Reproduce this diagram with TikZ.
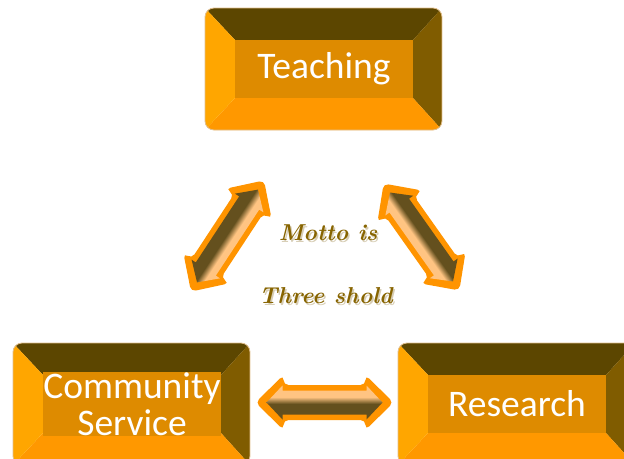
\documentclass[tikz,border=0pt]{standalone}
\usepackage{fontspec}
\newfontfamily\calibri{Carlito}
\definecolor{bevtop}{RGB}{92,70,0}
\definecolor{bevright}{RGB}{128,92,0}
\definecolor{bevleft}{RGB}{255,166,0}
\definecolor{bevbot}{RGB}{255,152,0}
\definecolor{bevmid}{RGB}{222,139,0}
\definecolor{bevrim}{RGB}{225,190,140}
\definecolor{arrline}{RGB}{255,148,0}
\definecolor{arrlight}{RGB}{255,196,130}
\definecolor{arredge}{RGB}{230,150,70}
\definecolor{arrdark}{RGB}{100,80,30}
\definecolor{arrdeep}{RGB}{70,55,15}
\definecolor{mottocol}{RGB}{135,100,0}
\definecolor{mottoshadow}{RGB}{215,205,180}
\pgfdeclareverticalshading{arrlighttop}{100bp}{color(0bp)=(arrdeep); color(30bp)=(arrdark); color(48bp)=(arrdark); color(58bp)=(arrlight); color(80bp)=(arrlight); color(100bp)=(arredge)}
\pgfdeclareverticalshading{arrdarktop}{100bp}{color(0bp)=(arredge); color(20bp)=(arrlight); color(42bp)=(arrlight); color(52bp)=(arrdark); color(70bp)=(arrdark); color(100bp)=(arrdeep)}
\tikzset{
  boxlabel/.style={inner sep=0pt, text=white, align=center,
    font=\calibri\fontsize{37.5}{37}\selectfont},
  arrouter/.style={fill=arrline, rounded corners=5pt},
  mottotext/.style={text=mottocol, font=\fontsize{23}{26}\selectfont\bfseries\itshape},
  mottoshade/.style={text=mottoshadow, font=\fontsize{23}{26}\selectfont\bfseries\itshape}
}
\newcommand\bevbox[6]{%
  \pgfmathsetmacro\ixa{#2+30}\pgfmathsetmacro\iya{#3+32}%
  \pgfmathsetmacro\ixb{#4-29}\pgfmathsetmacro\iyb{#5-32}%
  \pgfmathsetmacro\iw{\ixb-\ixa}\pgfmathsetmacro\ih{\iyb-\iya}%
  \begin{scope}
    \clip[rounded corners=9pt] (#2,#3) rectangle (#4,#5);
    \fill[bevtop] (#2,#3) -- (#4,#3) -- (\ixb,\iya) -- (\ixa,\iya) -- cycle;
    \fill[bevright] (#4,#3) -- (#4,#5) -- (\ixb,\iyb) -- (\ixb,\iya) -- cycle;
    \fill[bevbot] (#2,#5) -- (#4,#5) -- (\ixb,\iyb) -- (\ixa,\iyb) -- cycle;
    \fill[bevleft] (#2,#3) -- (#2,#5) -- (\ixa,\iyb) -- (\ixa,\iya) -- cycle;
  \end{scope}
  \draw[bevrim, line width=0.8pt, rounded corners=9pt] (#2,#3) rectangle (#4,#5);
  \node[boxlabel, fill=bevmid, minimum width=\iw pt, minimum height=\ih pt]
    (#1) at ({(\ixa+\ixb)/2},{(\iya+\iyb)/2}) {#6};
}
% block double arrow: name, x, y, angle, inner half length, shading
\newcommand\blockarrow[6]{%
  \coordinate (#1) at (#2,#3);
  \pgfmathsetmacro\li{#5}\pgfmathsetmacro\lo{#5+11}%
  \begin{scope}[transform canvas={shift={(#2,#3)},rotate=#4}]
    \fill[arrouter] (-\lo,0) -- (-\lo+28,27.5) -- (-\lo+28,17.5) -- (\lo-28,17.5)
      -- (\lo-28,27.5) -- (\lo,0) -- (\lo-28,-27.5) -- (\lo-28,-17.5)
      -- (-\lo+28,-17.5) -- (-\lo+28,-27.5) -- cycle;
    \shade[shading=#6] (-\li,0) -- (-\li+16,17) -- (-\li+16,12) -- (\li-16,12)
      -- (\li-16,17) -- (\li,0) -- (\li-16,-17) -- (\li-16,-12)
      -- (-\li+16,-12) -- (-\li+16,-17) -- cycle;
  \end{scope}
}
\begin{document}
\begin{tikzpicture}[x=1pt,y=-1pt]
  \useasboundingbox (0,0) rectangle (624,458);
  \clip (0,0) rectangle (624,458);
  \bevbox{teach}{205}{8}{442}{130}{Teaching}
  \bevbox{comm}{13}{343}{250}{465}{Community\\Service}
  \bevbox{res}{398}{343}{635}{465}{Research}
  % arrows
  \blockarrow{aleft}{227.5}{236}{56.7}{55.5}{arrdarktop}
  \blockarrow{aright}{421.5}{237}{-54.7}{54.5}{arrdarktop}
  \blockarrow{abot}{324.5}{402.5}{0}{58}{arrlighttop}
  % motto
  \node[mottoshade] at (329.5,234.5) {Motto is};
  \node[mottotext] (motto1) at (328,233) {Motto is};
  \node[mottoshade] at (327.5,297.5) {Three shold};
  \node[mottotext] (motto2) at (326,296) {Three shold};
\end{tikzpicture}
\end{document}
